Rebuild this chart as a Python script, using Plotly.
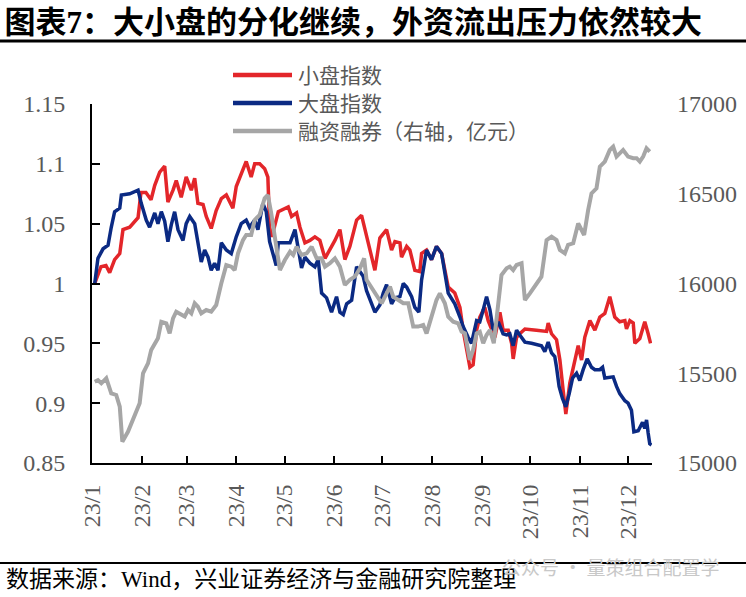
import pandas as pd
import plotly.graph_objects as go

BASE = pd.Timestamp("2023-01-01")

# ---- data (day offset from 2023-01-01, value) ----
small_days = [1.7, 5.6, 8.7, 11.0, 14.1, 17.3, 19.3, 23.5, 28.7, 30.5, 33.6, 36.8, 39.1, 42.2, 45.3,
              47.3, 50.5, 52.5, 55.6, 58.7, 61.9, 64.0, 66.0, 69.2, 71.2, 74.3, 77.4, 80.6, 83.7,
              87.8, 89.9, 93.0, 96.1, 99.2, 101.4, 104.5, 107.6, 109.6, 110.7, 112.1, 116.1, 122.3,
              124.4, 127.5, 129.6, 132.7, 135.8, 138.9, 142.0, 145.2, 148.3, 151.4, 154.5, 157.6,
              160.7, 164.9, 168.0, 171.1, 173.2, 176.3, 179.4, 183.6, 186.7, 188.8, 191.9, 192.9,
              196.1, 198.1, 201.2, 204.3, 205.4, 208.5, 211.6, 214.7, 217.9, 222.0, 226.1, 229.3,
              231.3, 233.4, 235.5, 237.5, 239.7, 241.7, 244.8, 246.9, 249.0, 251.1, 254.2, 256.2,
              259.4, 261.5, 262.5, 264.6, 266.6, 269.8, 277.0, 283.3, 284.3, 286.4, 289.5, 291.6,
              293.6, 295.3, 297.8, 300.9, 303.0, 305.1, 307.1, 310.3, 313.4, 316.5, 319.6, 322.7,
              325.8, 328.9, 332.1, 333.1, 335.2, 337.3, 338.3, 341.4, 344.5, 346.6, 348.1]
small_vals = [1.000, 1.014, 1.015, 1.009, 1.020, 1.025, 1.045, 1.047, 1.055, 1.076, 1.076, 1.070, 1.082,
              1.093, 1.098, 1.068, 1.078, 1.086, 1.072, 1.089, 1.078, 1.088, 1.067, 1.066, 1.056,
              1.046, 1.061, 1.071, 1.074, 1.063, 1.081, 1.092, 1.102, 1.089, 1.100, 1.100, 1.096,
              1.089, 1.047, 1.039, 1.060, 1.064, 1.056, 1.059, 1.047, 1.034, 1.036, 1.039, 1.036,
              1.021, 1.028, 1.036, 1.045, 1.020, 1.031, 1.053, 1.057, 1.039, 1.028, 1.011, 1.038,
              1.045, 1.028, 1.035, 1.034, 1.022, 1.031, 1.028, 1.011, 1.010, 1.025, 1.028, 1.020,
              1.031, 1.025, 0.997, 0.992, 0.980, 0.961, 0.944, 0.930, 0.932, 0.961, 0.972, 0.980,
              0.969, 0.961, 0.955, 0.976, 0.961, 0.961, 0.950, 0.937, 0.955, 0.958, 0.962, 0.961,
              0.960, 0.967, 0.958, 0.953, 0.936, 0.911, 0.891, 0.917, 0.936, 0.948, 0.936, 0.955,
              0.969, 0.961, 0.972, 0.975, 0.989, 0.972, 0.968, 0.969, 0.962, 0.969, 0.967, 0.950,
              0.954, 0.968, 0.958, 0.950]

large_days = [1.7, 3.7, 6.9, 10.0, 12.0, 14.1, 17.3, 18.3, 23.5, 28.7, 30.7, 33.8, 35.9, 39.1, 41.1,
              43.2, 45.3, 47.3, 49.4, 51.5, 53.6, 56.7, 58.7, 60.9, 64.0, 66.0, 68.1, 70.2, 72.3,
              74.3, 76.4, 78.5, 80.6, 83.7, 86.8, 89.9, 93.0, 96.1, 98.2, 101.4, 103.4, 106.5,
              108.6, 110.7, 112.8, 114.8, 116.1, 123.4, 126.5, 128.5, 130.6, 132.7, 135.8, 138.9,
              141.0, 143.1, 146.2, 149.3, 152.4, 154.5, 156.6, 158.7, 161.8, 164.9, 167.0, 169.0,
              171.1, 174.3, 176.3, 179.4, 181.5, 183.6, 186.7, 188.8, 191.9, 194.0, 196.1, 199.2,
              201.2, 203.7, 205.4, 208.5, 211.6, 214.7, 217.9, 222.0, 226.1, 229.3, 231.3, 234.4,
              236.5, 239.7, 241.7, 243.8, 245.9, 248.0, 250.0, 253.2, 256.2, 258.4, 260.4, 262.5,
              264.6, 266.6, 269.8, 273.9, 280.1, 282.2, 284.3, 286.4, 288.4, 289.5, 291.1, 293.2,
              295.3, 297.4, 299.5, 302.0, 304.0, 306.1, 308.6, 311.3, 313.4, 316.5, 318.2, 319.6,
              322.7, 324.8, 326.9, 328.9, 332.1, 334.1, 336.2, 337.7, 340.4, 343.1, 344.5, 345.6,
              346.6, 347.6, 348.7]
large_vals = [1.000, 1.021, 1.029, 1.032, 1.047, 1.060, 1.063, 1.074, 1.075, 1.078, 1.067, 1.053, 1.047,
              1.059, 1.050, 1.060, 1.052, 1.035, 1.049, 1.060, 1.045, 1.036, 1.050, 1.056, 1.050,
              1.036, 1.018, 1.028, 1.022, 1.011, 1.017, 1.011, 1.034, 1.028, 1.025, 1.039, 1.050,
              1.053, 1.047, 1.053, 1.045, 1.067, 1.060, 1.035, 1.024, 1.015, 1.034, 1.034, 1.045,
              1.031, 1.013, 1.022, 1.017, 1.014, 1.020, 0.992, 0.988, 0.976, 0.989, 0.976, 0.974,
              0.983, 0.986, 1.014, 1.010, 1.006, 0.994, 0.983, 0.976, 0.982, 0.992, 0.999, 0.983,
              0.988, 0.989, 1.000, 0.997, 0.989, 0.980, 0.976, 1.003, 1.028, 1.020, 1.031, 1.025,
              0.992, 0.983, 0.972, 0.964, 0.955, 0.950, 0.969, 0.968, 0.978, 0.989, 0.978, 0.961,
              0.968, 0.958, 0.957, 0.958, 0.948, 0.961, 0.957, 0.951, 0.950, 0.948, 0.943, 0.951,
              0.942, 0.939, 0.930, 0.914, 0.904, 0.897, 0.908, 0.921, 0.925, 0.919, 0.928, 0.937,
              0.930, 0.928, 0.928, 0.930, 0.921, 0.922, 0.922, 0.914, 0.908, 0.902, 0.900, 0.894,
              0.876, 0.877, 0.884, 0.879, 0.886, 0.875, 0.866, 0.865]

margin_days = [1.7, 3.7, 5.8, 8.9, 12.0, 15.1, 17.3, 18.9, 22.4, 26.6, 29.7, 31.8, 34.9, 36.9, 39.1,
               41.1, 43.2, 46.3, 48.4, 50.5, 52.5, 55.6, 57.8, 59.8, 61.9, 64.0, 66.0, 68.1, 71.2,
               74.3, 77.4, 80.6, 83.7, 86.8, 88.9, 91.0, 94.1, 96.1, 99.2, 101.4, 104.5, 107.6,
               109.6, 111.7, 114.0, 117.1, 120.2, 123.4, 125.4, 127.5, 130.6, 133.8, 136.9, 140.0,
               143.1, 145.2, 148.3, 151.4, 154.5, 157.6, 160.7, 163.8, 167.0, 169.6, 171.1, 174.3,
               177.4, 180.5, 183.6, 185.7, 187.7, 190.8, 194.0, 197.1, 200.2, 203.3, 206.4, 208.5,
               211.6, 214.7, 216.8, 219.9, 222.0, 225.1, 228.2, 230.3, 232.4, 235.5, 237.5, 239.7,
               241.7, 243.8, 245.9, 248.0, 250.4, 252.1, 253.7, 255.2, 258.4, 260.4, 262.5, 264.6,
               267.7, 269.8, 272.9, 276.0, 280.1, 283.3, 286.4, 289.5, 291.6, 294.7, 296.7, 299.9,
               303.0, 305.1, 306.7, 309.2, 311.3, 314.4, 316.5, 319.6, 322.7, 324.8, 326.9, 331.0,
               334.1, 337.3, 339.4, 341.4, 343.5, 345.6, 347.6]
margin_vals = [15453, 15462, 15444, 15472, 15388, 15379, 15314, 15119, 15174, 15258, 15333, 15500, 15555,
               15630, 15667, 15695, 15787, 15778, 15722, 15806, 15843, 15825, 15816, 15852, 15834,
               15890, 15871, 15834, 15852, 15843, 15880, 16001, 16103, 16094, 16075, 16168, 16242,
               16270, 16270, 16354, 16382, 16475, 16493, 16391, 16250, 16075, 16131, 16177, 16159,
               16205, 16159, 16168, 16205, 16140, 16140, 16094, 16113, 16140, 16094, 15992, 16020,
               16038, 16085, 16140, 16020, 15973, 15927, 15890, 15945, 15982, 15927, 15908, 15890,
               15890, 15760, 15760, 15769, 15722, 15815, 15908, 15945, 15890, 15815, 15787, 15778,
               15732, 15722, 15574, 15630, 15722, 15731, 15667, 15713, 15741, 15667, 15815, 15963,
               16047, 16085, 16094, 16075, 16103, 16113, 15908, 15945, 15982, 16038, 16242, 16261,
               16242, 16187, 16168, 16215, 16224, 16335, 16298, 16270, 16409, 16502, 16530, 16651,
               16679, 16744, 16762, 16707, 16744, 16707, 16698, 16698, 16679, 16707, 16753, 16735]

month_starts = ["2023-01-01", "2023-02-01", "2023-03-01", "2023-04-01", "2023-05-01", "2023-06-01",
                "2023-07-01", "2023-08-01", "2023-09-01", "2023-10-01", "2023-11-01", "2023-12-01"]
month_labels = ["23/1", "23/2", "23/3", "23/4", "23/5", "23/6",
                "23/7", "23/8", "23/9", "23/10", "23/11", "23/12"]
left_ticks = [0.85, 0.9, 0.95, 1.0, 1.05, 1.1, 1.15]
left_labels = ["0.85", "0.9", "0.95", "1", "1.05", "1.1", "1.15"]
right_ticks = [15000, 15500, 16000, 16500, 17000]
right_labels = ["15000", "15500", "16000", "16500", "17000"]

series_names = ["小盘指数", "大盘指数", "融资融券（右轴，亿元）"]
series_colors = ["#E3262A", "#0B2A83", "#A6A6A6"]


def to_dates(days):
    return BASE + pd.to_timedelta(days, unit="D")


SERIF = "Liberation Serif, Noto Sans CJK SC, serif"
TXT = "#595959"

fig = go.Figure()
fig.add_trace(go.Scatter(x=to_dates(small_days), y=small_vals, name=series_names[0], mode="lines",
                         line=dict(color=series_colors[0], width=3.5), showlegend=False))
fig.add_trace(go.Scatter(x=to_dates(large_days), y=large_vals, name=series_names[1], mode="lines",
                         line=dict(color=series_colors[1], width=3.5), showlegend=False))
fig.add_trace(go.Scatter(x=to_dates(margin_days), y=margin_vals, name=series_names[2],
                         mode="lines", yaxis="y2", line=dict(color=series_colors[2], width=4),
                         showlegend=False))

W, H = 746, 597
L, R, T, B = 92, 94, 104, 134
pw, ph = W - L - R, H - T - B


def px_x(p):
    return (p - L) / pw


def px_y(p):
    return (H - B - p) / ph


fig.update_layout(
    width=W, height=H,
    margin=dict(l=L, r=R, t=T, b=B, autoexpand=False),
    paper_bgcolor="white", plot_bgcolor="white",
    font=dict(family=SERIF, color=TXT, size=24),
    showlegend=False,
    title=dict(text="<b>图表7：大小盘的分化继续，外资流出压力依然较大</b>",
               x=0.006, xanchor="left", xref="container",
               y=1 - 22 / H, yanchor="middle", yref="container",
               font=dict(size=31, color="black", family=SERIF)),
    xaxis=dict(type="date", range=[BASE, BASE + pd.Timedelta(days=349)],
               tickmode="array", tickvals=month_starts, ticktext=month_labels,
               tickangle=-90, ticks="inside", ticklen=7, tickwidth=2, tickcolor="black",
               showline=True, linecolor="black", linewidth=2, showgrid=False, zeroline=False,
               tickfont=dict(size=24, color=TXT, family=SERIF), ticklabelstandoff=10),
    yaxis=dict(range=[0.85, 1.15], tickmode="array", tickvals=left_ticks, ticktext=left_labels,
               ticks="inside", ticklen=8, tickwidth=2, tickcolor="black",
               showline=True, linecolor="black", linewidth=2, showgrid=False, zeroline=False,
               tickfont=dict(size=24, color=TXT, family=SERIF), ticklabelstandoff=20),
    yaxis2=dict(range=[15000, 17000], overlaying="y", side="right", tickmode="array",
                tickvals=right_ticks, ticktext=right_labels, ticks="", showline=False,
                showgrid=False, zeroline=False,
                tickfont=dict(size=24, color=TXT, family=SERIF), ticklabelstandoff=24),
)

# legend (drawn as key lines + labels to match the compact original spacing)
legend_rows = [75, 103, 131]
for name, color, yy in zip(series_names, series_colors, legend_rows):
    fig.add_shape(type="line", xref="paper", yref="paper", x0=px_x(233), x1=px_x(292),
                  y0=px_y(yy), y1=px_y(yy), line=dict(color=color, width=4.5))
    fig.add_annotation(text=name, xref="paper", yref="paper", x=px_x(297), y=px_y(yy - 1),
                       xanchor="left", yanchor="middle", showarrow=False, borderpad=0,
                       font=dict(size=21, color=TXT, family="Noto Sans CJK SC"))

# decorative rules under title and above source line
fig.add_shape(type="line", xref="paper", yref="paper", x0=px_x(0), x1=px_x(W),
              y0=px_y(41), y1=px_y(41), line=dict(color="black", width=3))
fig.add_shape(type="line", xref="paper", yref="paper", x0=px_x(0), x1=px_x(W),
              y0=px_y(563), y1=px_y(563), line=dict(color="black", width=2))

fig.add_annotation(text="数据来源：Wind，兴业证券经济与金融研究院整理", xref="paper", yref="paper",
                   x=px_x(4), y=px_y(579), xanchor="left", yanchor="middle", showarrow=False,
                   font=dict(size=23, color="black", family=SERIF))
fig.add_annotation(text="公众号 · 量策组合配置学", xref="paper", yref="paper",
                   x=px_x(722), y=px_y(566), xanchor="right", yanchor="middle", showarrow=False,
                   font=dict(size=19, color="#C8C8C8", family="Noto Sans CJK SC"))

fig.write_html("out.html", config={"displayModeBar": False},
               post_script="document.body.style.margin='0px';document.body.style.overflow='hidden';")
